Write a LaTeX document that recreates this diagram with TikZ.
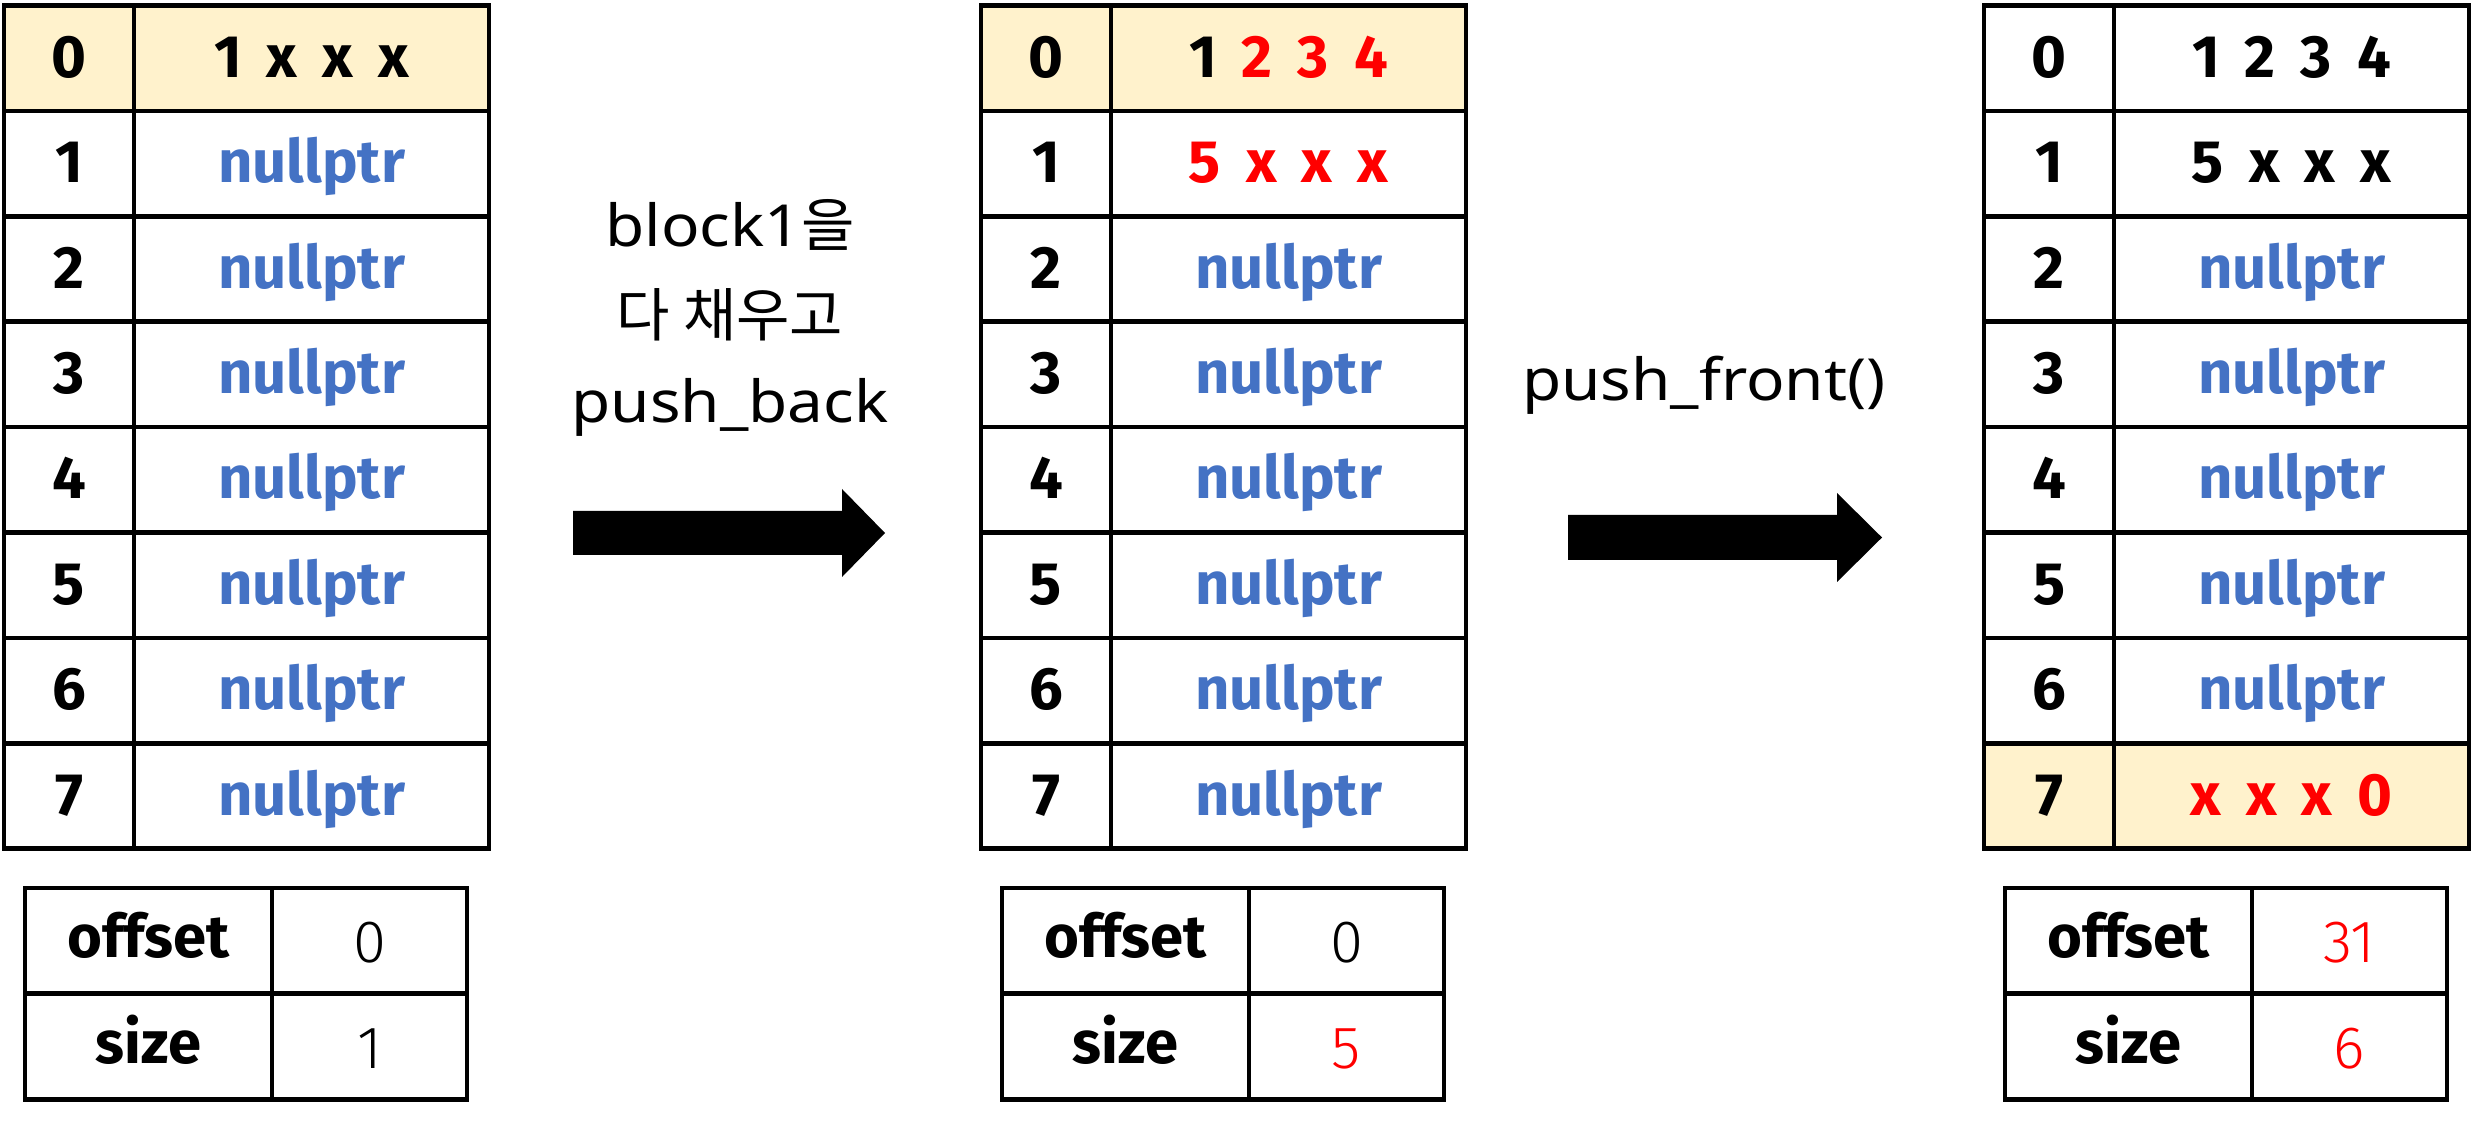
\documentclass[tikz,border=0pt]{standalone}
\usepackage{fontspec}
\setmainfont{Noto Sans}
\newfontfamily\krfam{Noto Sans CJK KR}
\newfontfamily\labfam[FakeStretch=1.1]{Noto Sans}
\newfontfamily\tblfam{Fira Sans}
\newfontfamily\valfam{Fira Sans Light}
\definecolor{cellyellow}{HTML}{FFF2CC}
\definecolor{nullblue}{HTML}{4472C4}
\definecolor{hired}{HTML}{FF0000}
\newcommand\tblfont{\fontsize{17}{20}\selectfont\tblfam\bfseries\spaceskip=0.42em\relax}
\newcommand\valfont{\fontsize{17}{20}\selectfont\valfam}
\newcommand\labsize{\fontsize{16.5}{20}\selectfont\labfam}
\tikzset{
  tbl/.style={draw=black, line width=0.045cm, rectangle, inner sep=0pt,
    minimum height=1.054cm, text height=0.38cm, text depth=0cm, font=\tblfont},
  idxcell/.style={tbl, minimum width=1.30cm},
  datcell/.style={tbl, minimum width=3.55cm},
  hl/.style={fill=cellyellow},
  nul/.style={text=nullblue},
  sml/.style={draw=black, line width=0.045cm, rectangle, inner sep=0pt, minimum height=1.0575cm},
  smlkey/.style={sml, minimum width=2.47cm, text height=0.34cm, text depth=0cm, font=\tblfont},
  smlval/.style={sml, minimum width=1.95cm, text height=0.44cm, text depth=0cm, font=\valfont},
  lab/.style={anchor=base, inner sep=0pt, font=\labsize},
  blockarrow/.style={fill=black}
}
\begin{document}
\begin{tikzpicture}[x=0.01cm,y=-0.01cm]
\useasboundingbox (0,0) rectangle (2473,1125);

% ---------- Table 1 ----------
\node[idxcell,hl] (t1i0) at (69,58.2) {0};
\foreach \r in {1,...,7} \node[idxcell] (t1i\r) at (69,58.2+105.4*\r) {\r};
\node[datcell,hl] (t1c0) at (311.5,58.2) {1 x x x};
\foreach \r in {1,...,7} \node[datcell,nul] (t1c\r) at (311.5,58.2+105.4*\r) {nullptr};

\node[smlkey] (s1k0) at (148.5,940.9) {offset};
\node[smlval] (s1v0) at (369.5,940.9) {0};
\node[smlkey] (s1k1) at (148.5,1046.6) {size};
\node[smlval] (s1v1) at (369.5,1046.6) {1};

% ---------- Table 2 ----------
\node[idxcell,hl] (t2i0) at (1046,58.2) {0};
\foreach \r in {1,...,7} \node[idxcell] (t2i\r) at (1046,58.2+105.4*\r) {\r};
\node[datcell,hl] (t2c0) at (1288.5,58.2) {1 \textcolor{hired}{2 3 4}};
\node[datcell,text=hired] (t2c1) at (1288.5,163.6) {5 x x x};
\foreach \r in {2,...,7} \node[datcell,nul] (t2c\r) at (1288.5,58.2+105.4*\r) {nullptr};

\node[smlkey] (s2k0) at (1125.5,940.9) {offset};
\node[smlval] (s2v0) at (1346.5,940.9) {0};
\node[smlkey] (s2k1) at (1125.5,1046.6) {size};
\node[smlval,text=hired] (s2v1) at (1346.5,1046.6) {5};

% ---------- Table 3 ----------
\foreach \r in {0,...,6} \node[idxcell] (t3i\r) at (2049,58.2+105.4*\r) {\r};
\node[idxcell,hl] (t3i7) at (2049,796) {7};
\node[datcell] (t3c0) at (2291.5,58.2) {1 2 3 4};
\node[datcell] (t3c1) at (2291.5,163.6) {5 x x x};
\foreach \r in {2,...,6} \node[datcell,nul] (t3c\r) at (2291.5,58.2+105.4*\r) {nullptr};
\node[datcell,hl,text=hired] (t3c7) at (2291.5,796) {x x x 0};

\node[smlkey] (s3k0) at (2128.5,940.9) {offset};
\node[smlval,text=hired] (s3v0) at (2349.5,940.9) {31};
\node[smlkey] (s3k1) at (2128.5,1046.6) {size};
\node[smlval,text=hired] (s3v1) at (2349.5,1046.6) {6};

% ---------- Arrows ----------
\fill[blockarrow] (573,511) -- (842,511) -- (842,489) -- (885,533) -- (842,577) -- (842,555) -- (573,555) -- cycle;
\fill[blockarrow] (1568,515) -- (1837,515) -- (1837,493) -- (1882,537.5) -- (1837,582) -- (1837,560) -- (1568,560) -- cycle;

% ---------- Labels ----------
\node[lab] (l1a) at (730,247) {block1{\krfam 을}};
\node[lab] (l1b) at (730,337) {{\krfam 다 채우고}};
\node[lab] (l1c) at (730,423) {push\_back};
\node[lab] (l2) at (1704,401) {push\_front()};
\end{tikzpicture}
\end{document}
